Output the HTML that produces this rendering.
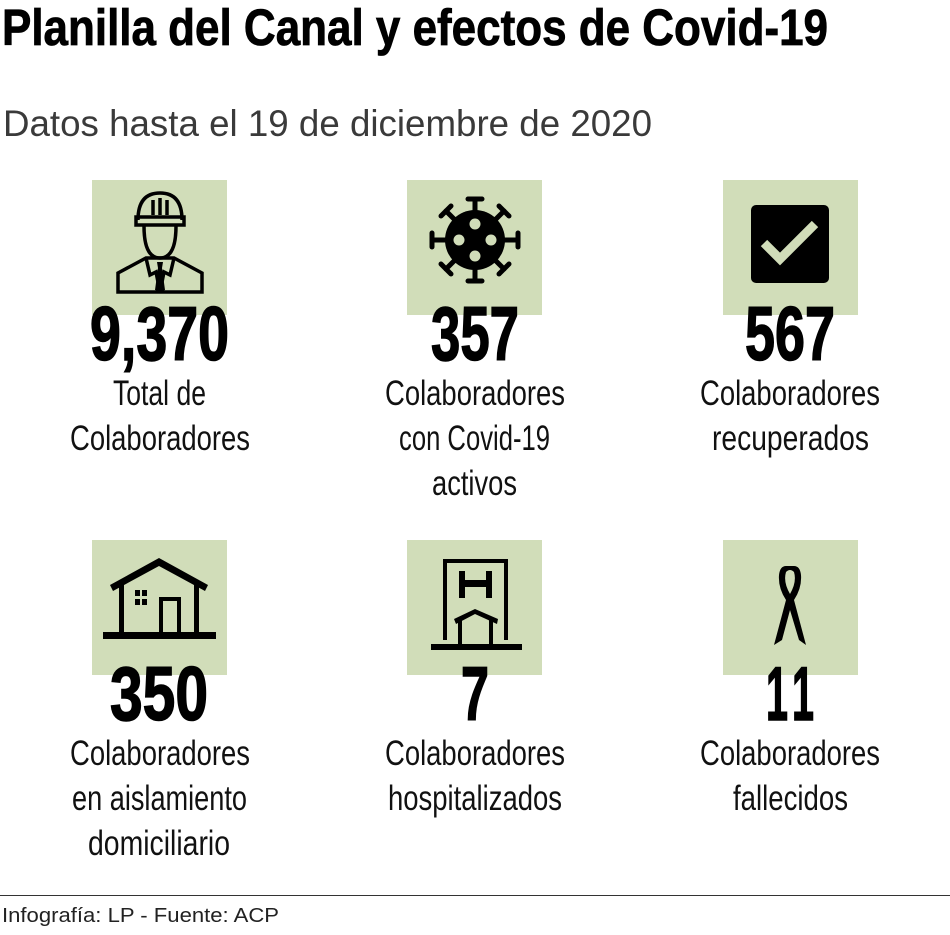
<!DOCTYPE html>
<html><head><meta charset="utf-8"><style>
html,body{margin:0;padding:0;background:#fff;}
svg{display:block;}
</style></head><body>
<svg width="950" height="935" viewBox="0 0 950 935" xmlns="http://www.w3.org/2000/svg" font-family="Liberation Sans, sans-serif">
<text x="2" y="45" font-size="51" font-weight="bold" fill="#000" stroke="#000" stroke-width="0.8" textLength="826" lengthAdjust="spacingAndGlyphs">Planilla del Canal y efectos de Covid-19</text>
<text x="3" y="136" font-size="37" fill="#3a3a3a" textLength="649" lengthAdjust="spacingAndGlyphs">Datos hasta el 19 de diciembre de 2020</text>

<g fill="#d1ddb9">
<rect x="92" y="180" width="135" height="135"/>
<rect x="407" y="180" width="135" height="135"/>
<rect x="723" y="180" width="135" height="135"/>
<rect x="92" y="540" width="135" height="135"/>
<rect x="407" y="540" width="135" height="135"/>
<rect x="723" y="540" width="135" height="135"/>
</g>

<g fill="none" stroke="#000" stroke-width="3.5">
<path d="M138 220 Q138 193 160 193 Q182 193 182 220"/>
<rect x="136" y="217" width="48" height="8"/>
<line x1="153" y1="200" x2="153" y2="215"/><line x1="160" y1="198" x2="160" y2="215"/><line x1="167" y1="200" x2="167" y2="215"/>
<path d="M144 226 Q144 258 160 258 Q176 258 176 226"/>
<path d="M118 292 L118 273 L146 258 L174 258 L202 273 L202 292 Z"/>
<path d="M146 258 L150 275 L156 272 L160 292 M174 258 L170 275 L164 272 L160 292"/>
</g>
<path d="M157 262 L163 262 L162 268 L165 290 L160 292 L155 290 L158 268 Z" fill="#000"/>

<g stroke="#000" stroke-width="5" stroke-linecap="round">
<line x1="475" y1="199" x2="475" y2="281"/><line x1="432" y1="240" x2="518" y2="240"/>
<line x1="446" y1="211" x2="504" y2="269"/><line x1="504" y1="211" x2="446" y2="269"/>
<line x1="468" y1="199" x2="482" y2="199"/><line x1="468" y1="281" x2="482" y2="281"/>
<line x1="432" y1="233" x2="432" y2="247"/><line x1="518" y1="233" x2="518" y2="247"/>
<line x1="441" y1="216" x2="451" y2="206"/><line x1="499" y1="206" x2="509" y2="216"/>
<line x1="441" y1="264" x2="451" y2="274"/><line x1="499" y1="274" x2="509" y2="264"/>
</g>
<circle cx="475" cy="240" r="30" fill="#000"/>
<g fill="#d1ddb9"><circle cx="475" cy="224" r="5.5"/><circle cx="475" cy="256" r="5.5"/><circle cx="459" cy="240" r="5.5"/><circle cx="491" cy="240" r="5.5"/></g>

<rect x="751" y="205" width="78" height="78" rx="5" fill="#000"/>
<path d="M764 243 L780 259 L815 224" fill="none" stroke="#d1ddb9" stroke-width="9"/>

<g fill="#000">
<rect x="103" y="632" width="113" height="7"/>
<path d="M110 585 L159 558 L208 585 L205 591 L159 566 L113 591 Z"/>
<rect x="119" y="580" width="5" height="54"/><rect x="194" y="580" width="5" height="54"/>
<rect x="135" y="590" width="5" height="6"/><rect x="142" y="590" width="5" height="6"/>
<rect x="135" y="599" width="5" height="6"/><rect x="142" y="599" width="5" height="6"/>
<path d="M159 634 V597 H181 V634 H177 V601 H163 V634 Z"/>
</g>
<g fill="#000">
<path d="M443 559 H508 V640 H443 Z M447 563 V640 H504 V563 Z" fill-rule="evenodd"/>
<rect x="431" y="644" width="91" height="6"/>
<path d="M459 571 H465 V580 H486 V571 H492 V598 H486 V587 H465 V598 H459 Z"/>
<path d="M454 619 L475 609 L498 619 L497 624 L475 614 L456 624 Z"/>
<rect x="458" y="620" width="4" height="24"/><rect x="489" y="620" width="4" height="24"/>
</g>
<g fill="#000">
<path d="M786 566 Q780 566 779 575 Q778 588 786 600 L774 645 L782 640 L790 610 L799 640 L806 645 L794 600 Q802 588 801 575 Q800 566 794 566 Z M786 572 Q790 568 794 572 Q797 582 790 594 Q783 582 786 572 Z" fill-rule="evenodd"/>
</g>

<g font-weight="bold" fill="#000" stroke="#000" stroke-width="1.5" font-size="76">
<text x="90" y="360" textLength="139" lengthAdjust="spacingAndGlyphs">9,370</text>
<text x="431" y="360" textLength="88" lengthAdjust="spacingAndGlyphs">357</text>
<text x="745" y="360" textLength="90" lengthAdjust="spacingAndGlyphs">567</text>
<text x="110" y="720" textLength="98" lengthAdjust="spacingAndGlyphs">350</text>
<text x="461" y="720" textLength="28" lengthAdjust="spacingAndGlyphs">7</text>
<text x="766" y="720" textLength="22" lengthAdjust="spacingAndGlyphs">1</text>
<text x="792" y="720" textLength="22" lengthAdjust="spacingAndGlyphs">1</text>
</g>

<g font-size="35" fill="#111">
<text x="113" y="405" textLength="93" lengthAdjust="spacingAndGlyphs">Total de</text>
<text x="70" y="450" textLength="180" lengthAdjust="spacingAndGlyphs">Colaboradores</text>
<text x="385" y="405" textLength="180" lengthAdjust="spacingAndGlyphs">Colaboradores</text>
<text x="399" y="450" textLength="151" lengthAdjust="spacingAndGlyphs">con Covid-19</text>
<text x="432" y="495" textLength="85" lengthAdjust="spacingAndGlyphs">activos</text>
<text x="700" y="405" textLength="180" lengthAdjust="spacingAndGlyphs">Colaboradores</text>
<text x="712" y="450" textLength="157" lengthAdjust="spacingAndGlyphs">recuperados</text>
<text x="70" y="765" textLength="180" lengthAdjust="spacingAndGlyphs">Colaboradores</text>
<text x="72" y="810" textLength="175" lengthAdjust="spacingAndGlyphs">en aislamiento</text>
<text x="88" y="855" textLength="142" lengthAdjust="spacingAndGlyphs">domiciliario</text>
<text x="385" y="765" textLength="180" lengthAdjust="spacingAndGlyphs">Colaboradores</text>
<text x="388" y="810" textLength="174" lengthAdjust="spacingAndGlyphs">hospitalizados</text>
<text x="700" y="765" textLength="180" lengthAdjust="spacingAndGlyphs">Colaboradores</text>
<text x="733" y="810" textLength="115" lengthAdjust="spacingAndGlyphs">fallecidos</text>
</g>

<line x1="0" y1="895.5" x2="950" y2="895.5" stroke="#333" stroke-width="1"/>
<text x="2" y="922" font-size="20" fill="#222" textLength="277" lengthAdjust="spacingAndGlyphs">Infografía: LP - Fuente: ACP</text>
</svg>
</body></html>
